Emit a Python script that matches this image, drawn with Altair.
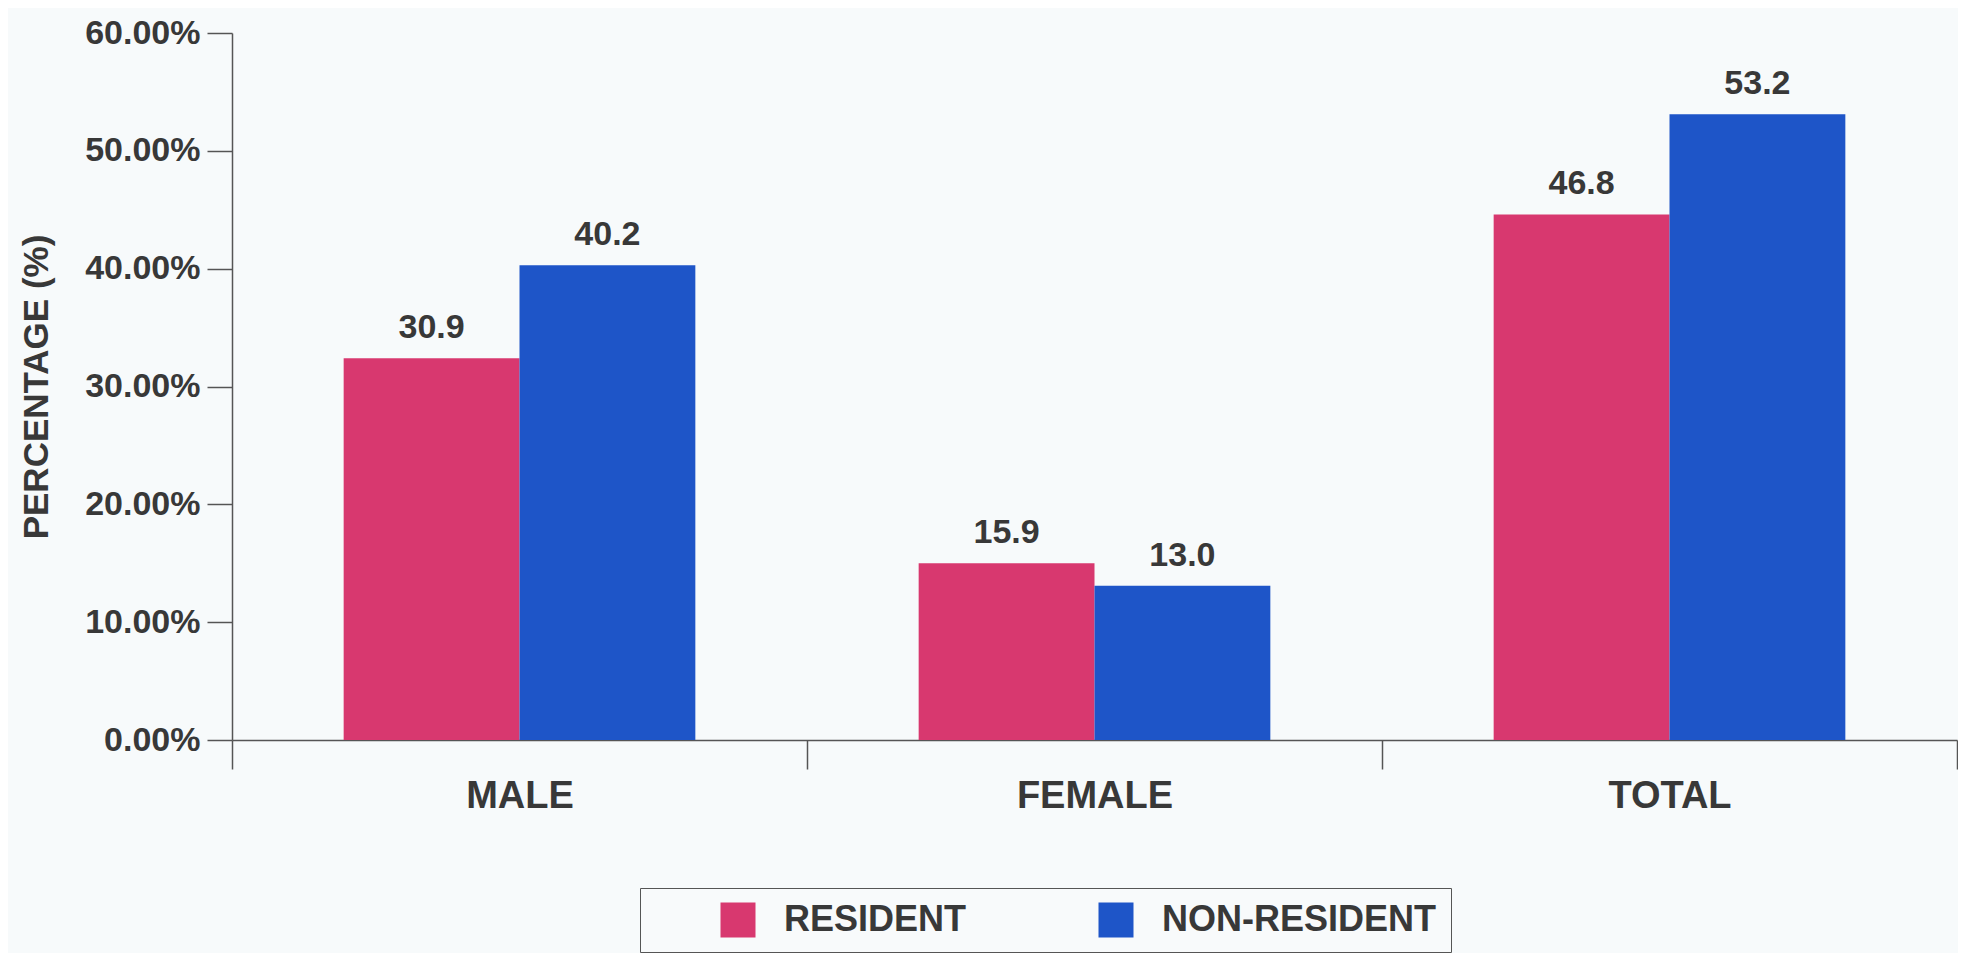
import altair as alt
import pandas as pd

# ---- data ----
categories = ["MALE", "FEMALE", "TOTAL"]
groups = ["RESIDENT", "NON-RESIDENT"]
resident_bar = [32.4, 15.0, 44.6]        # bar heights as drawn (%)
nonresident_bar = [40.3, 13.1, 53.1]
resident_label = ["30.9", "15.9", "46.8"]  # printed value labels
nonresident_label = ["40.2", "13.0", "53.2"]
y_ticks = [0, 10, 20, 30, 40, 50, 60]
colors = ["#D8386F", "#1E55C8"]

rows = []
for i, c in enumerate(categories):
    rows.append({"category": c, "group": groups[0], "value": resident_bar[i], "label": resident_label[i]})
    rows.append({"category": c, "group": groups[1], "value": nonresident_bar[i], "label": nonresident_label[i]})
df = pd.DataFrame(rows)

FONT = "Liberation Sans"
TEXT = "#383838"
LINE = "#555555"

x = alt.X(
    "category:N", sort=categories, title=None,
    scale=alt.Scale(paddingInner=0, paddingOuter=0),
    axis=alt.Axis(labelAngle=0, tickBand="extent", tickSize=29, labelPadding=8,
                  labelFontSize=38, labelFont=FONT, labelFontWeight="bold", labelColor=TEXT,
                  domainColor=LINE, tickColor=LINE, domainWidth=1.5, tickWidth=1.5, grid=False),
)
xoff = alt.XOffset("group:N", sort=groups, scale=alt.Scale(paddingInner=0, paddingOuter=0.635))
y = alt.Y(
    "value:Q", title="PERCENTAGE (%)",
    scale=alt.Scale(domain=[0, 60], nice=False, zero=True),
    axis=alt.Axis(values=y_ticks, labelExpr="format(datum.value, '.2f') + '%'",
                  tickSize=25, labelPadding=7, labelFontSize=34, labelFont=FONT,
                  labelFontWeight="bold", labelColor=TEXT, titleFont=FONT, titleFontSize=35,
                  titleFontWeight="bold", titleColor=TEXT, titlePadding=30,
                  domainColor=LINE, tickColor=LINE, domainWidth=1.5, tickWidth=1.5, grid=False),
)

bars = alt.Chart(df).mark_bar().encode(
    x=x, xOffset=xoff, y=y,
    color=alt.Color(
        "group:N", sort=groups, scale=alt.Scale(domain=groups, range=colors),
        legend=alt.Legend(orient="none", legendX=408, legendY=855, direction="horizontal",
                          title=" ", titleOrient="left", titleFontSize=10, titlePadding=66,
                          symbolType="square", symbolSize=1225, symbolStrokeWidth=0, symbolOpacity=1,
                          labelFontSize=36, labelFont=FONT, labelFontWeight="bold", labelColor=TEXT,
                          labelLimit=600, labelOffset=28, columnPadding=131, padding=14,
                          strokeColor=LINE, fillColor="#F8FAFB"),
    ),
)

labels = alt.Chart(df).mark_text(
    baseline="alphabetic", dy=-20, fontSize=34, fontWeight="bold", font=FONT, color=TEXT
).encode(x=alt.X("category:N", sort=categories), xOffset=alt.XOffset("group:N", sort=groups),
         y="value:Q", text="label:N")

chart = (bars + labels).properties(
    width=1725, height=707, background="#F7FAFB",
    padding={"left": 11, "top": 8, "right": 0, "bottom": 0},
).configure_view(stroke=None)

chart.save("out.html", embed_options={"renderer": "svg", "actions": False})
